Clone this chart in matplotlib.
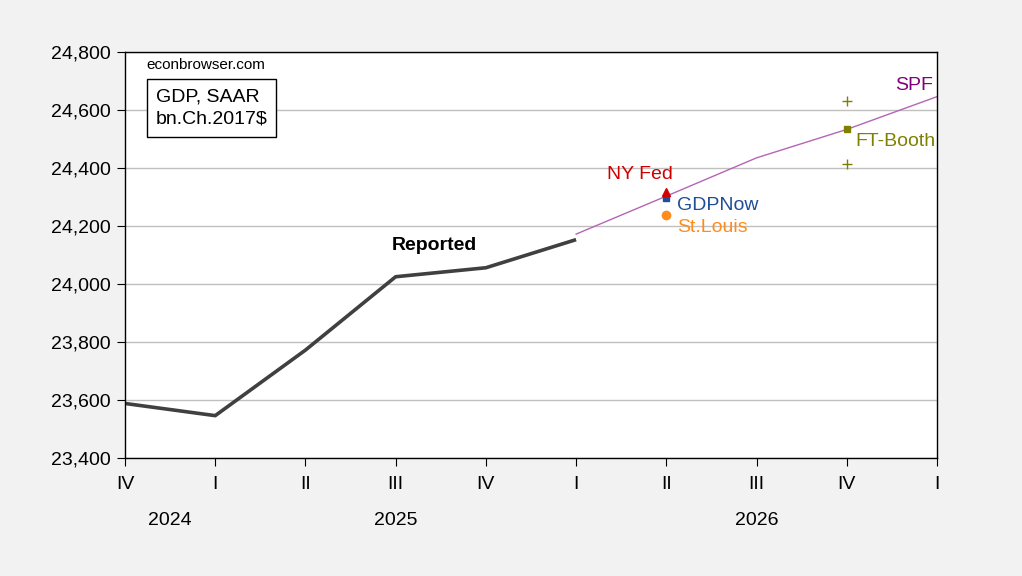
import numpy as np
from matplotlib import pyplot as plt
from matplotlib import transforms

plt.rcParams['font.family'] = ['Liberation Sans', 'DejaVu Sans']

# quarters 2024Q4 .. 2027Q1
quarter_labels = ["IV", "I", "II", "III", "IV", "I", "II", "III", "IV", "I"]
year_labels = ["2024", "2025", "2026"]
year_pos = [0.5, 3, 7]

reported_q = [0, 1, 2, 3, 4, 5]
reported = [23588, 23546, 23772, 24025, 24056, 24153]

spf_q = [5, 6, 7, 8, 9]
spf = [24172, 24303, 24435, 24533, 24646]

nyfed = 24318
gdpnow = 24298
stlouis = 24238
ftbooth = 24535
ftbooth_hi = 24632
ftbooth_lo = 24415

fig = plt.figure(figsize=(10.22, 5.76), dpi=100, facecolor="#f2f2f2")
ax = fig.add_axes([0.1223, 0.2049, 0.7945, 0.7048])
ax.set_facecolor("white")

ax.plot(reported_q, reported, color="#404040", lw=2.6, solid_capstyle="butt")
ax.plot(spf_q, spf, color="#b565b5", lw=1.0)

ax.plot(6, gdpnow, marker="s", color="#1f4e96", ms=5, ls="none")
ax.plot(6, nyfed, marker="^", color="#d00000", ms=6, ls="none")
ax.plot(6, stlouis, marker="o", color="#ff8c1a", ms=6, ls="none")
ax.plot(8, ftbooth, marker="s", color="#808000", ms=5, ls="none")
ax.plot([8, 8], [ftbooth_hi, ftbooth_lo], marker="+", color="#808000", ms=7, ls="none", mew=1)

ax.set_xlim(0, 9)
ax.set_ylim(23400, 24800)
ax.set_yticks(np.arange(23400, 24801, 200))
ax.set_yticklabels([f"{v:,}" for v in range(23400, 24801, 200)], fontsize=14)
ax.set_xticks(range(10))
ax.set_xticklabels(quarter_labels, fontsize=14)
ax.tick_params(axis="x", direction="out", length=6, pad=7)
ax.tick_params(axis="y", direction="out", length=6, pad=4)
ax.grid(axis="y", color="#c0c0c0", lw=1)
ax.set_axisbelow(True)
for s in ax.spines.values():
    s.set_color("black")
    s.set_linewidth(1)

trans = transforms.blended_transform_factory(ax.transData, ax.transAxes)
for lab, p in zip(year_labels, year_pos):
    ax.text(p, -0.153, lab, transform=trans, ha="center", va="center", fontsize=14)

ax.text(3.43, 24133, "Reported", fontsize=14, fontweight="bold", ha="center", va="center")
ax.text(6.07, 24378, "NY Fed", color="#d00000", fontsize=14, ha="right", va="center")
ax.text(6.12, 24269, "GDPNow", color="#1f4e96", fontsize=14, ha="left", va="center")
ax.text(6.12, 24196, "St.Louis", color="#ff8c1a", fontsize=14, ha="left", va="center")
ax.text(8.1, 24490, "FT-Booth", color="#808000", fontsize=14, ha="left", va="center")
ax.text(8.54, 24683, "SPF", color="#800080", fontsize=14, ha="left", va="center")

ax.text(0.24, 24755, "econbrowser.com", fontsize=11, ha="left", va="center")
ax.text(0.34, 24607, "GDP, SAAR\nbn.Ch.2017$", fontsize=14, ha="left", va="center",
        linespacing=1.45,
        bbox=dict(boxstyle="square,pad=0.45", fc="white", ec="black", lw=1))

fig.savefig("out.png", dpi=100, facecolor=fig.get_facecolor())
